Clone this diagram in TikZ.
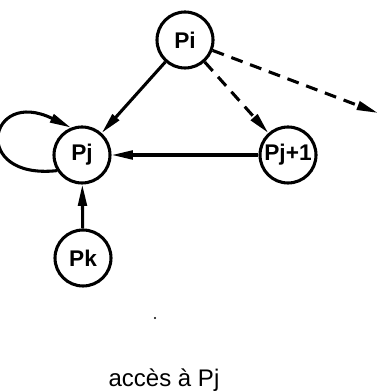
\documentclass[tikz,border=0pt]{standalone}
\usepackage{fontspec}
\setmainfont{Liberation Sans}
\usetikzlibrary{automata, arrows.meta}

\begin{document}
\begin{tikzpicture}[x=0.75pt, y=0.75pt,
  proc/.style={state, line width=2.3pt, minimum size=42pt, inner sep=0pt, font=\bfseries\fontsize{17}{17}\selectfont},
  acc/.style={line width=2.3pt, -{Triangle[length=16pt, width=6.5pt]}},
  accdash/.style={acc, dash pattern=on 9pt off 6pt}]
\useasboundingbox (0,0) rectangle (378,392);

\node[proc](Pi) at (185,352) {Pi};
\node[proc](Pj) at (82,237) {Pj};
\node[proc](Pj1) at (288,237) {Pj+1};
\node[proc](Pk) at (83,134) {Pk};
\coordinate (out) at (378,279);

\path[acc](Pi)edge(Pj);
\path[acc](Pj1)edge(Pj);
\path[acc](Pk)edge(Pj);
\path[accdash](Pi)edge(Pj1);
\path[accdash](Pi)edge(out);
\draw[acc](Pj.212) .. controls (-30,212) and (-12,305) .. (Pj.112);

\fill (155,74) circle (1.2);
\node[anchor=base, font=\fontsize{18}{18}\selectfont](cap) at (164,6) {accès à Pj};
\end{tikzpicture}
\end{document}
